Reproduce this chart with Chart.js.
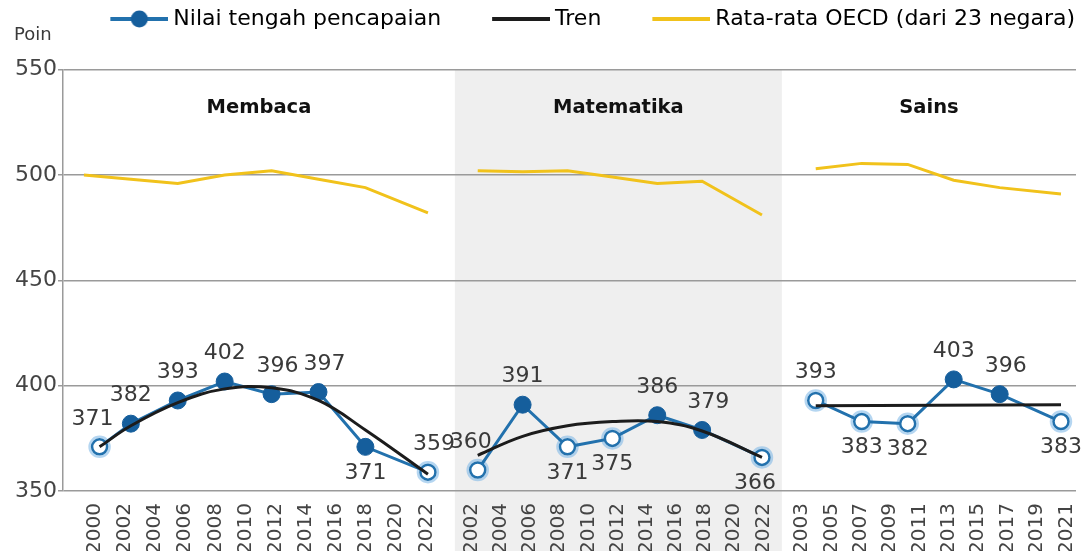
<!DOCTYPE html>
<html>
<head>
<meta charset="utf-8">
<script src="https://cdn.jsdelivr.net/npm/chart.js@4.4.1/dist/chart.umd.min.js"></script>
<style>
  html, body { margin: 0; padding: 0; background: #ffffff; overflow: hidden; }
  #wrap { width: 1086px; height: 551px; position: relative; overflow: hidden; }
</style>
</head>
<body>
<div id="wrap"><canvas id="c" width="1086" height="551"></canvas></div>
<script>
// ================= DATA =================
const panelTitles = ['Membaca', 'Matematika', 'Sains'];
const legendNames = ['Nilai tengah pencapaian', 'Tren', 'Rata-rata OECD (dari 23 negara)'];
const yTickValues = [350, 400, 450, 500, 550];

// Membaca (reading)
const membacaYears = [2001, 2003, 2006, 2009, 2012, 2015, 2018, 2022];
const membacaScores = [371, 382, 393, 402, 396, 397, 371, 359];
const membacaSignificant = [false, true, true, true, true, true, true, false];
const membacaTrendYears = [2001, 2003, 2006, 2009, 2012, 2015, 2018, 2022];
const membacaTrend = [371, 381, 392, 398.5, 399, 393, 379, 358];
const membacaOecdYears = [2000, 2003, 2006, 2009, 2012, 2015, 2018, 2022];
const membacaOecd = [500, 498, 496, 500, 502, 498, 494, 482];
const membacaTickLabels = ['2000', '2002', '2004', '2006', '2008', '2010', '2012', '2014', '2016', '2018', '2020', '2022'];

// Matematika (mathematics)
const matematikaYears = [2003, 2006, 2009, 2012, 2015, 2018, 2022];
const matematikaScores = [360, 391, 371, 375, 386, 379, 366];
const matematikaSignificant = [false, true, false, false, true, true, false];
const matematikaTrendYears = [2003, 2006, 2009, 2012, 2015, 2018, 2022];
const matematikaTrend = [367, 376, 381, 383, 383, 378.5, 366];
const matematikaOecdYears = [2003, 2006, 2009, 2012, 2015, 2018, 2022];
const matematikaOecd = [502, 501.5, 502, 499, 496, 497, 481];
const matematikaTickLabels = ['2002', '2004', '2006', '2008', '2010', '2012', '2014', '2016', '2018', '2020', '2022'];

// Sains (science)
const sainsYears = [2006, 2009, 2012, 2015, 2018, 2022];
const sainsScores = [393, 383, 382, 403, 396, 383];
const sainsSignificant = [false, false, false, true, true, false];
const sainsTrendYears = [2006, 2022];
const sainsTrend = [390.5, 391];
const sainsOecdYears = [2006, 2009, 2012, 2015, 2018, 2022];
const sainsOecd = [503, 505.5, 505, 497.5, 494, 491];
const sainsTickLabels = ['2003', '2005', '2007', '2009', '2011', '2013', '2015', '2017', '2019', '2021'];

// ================= LAYOUT / STYLE (not data) =================
const FONT = 'DejaVu Sans';
const BLUE = '#2271ad';
const BLUE_DARK = '#155e9c';
const BLUE_HALO = 'rgba(120, 180, 230, 0.55)';
const BLACK = '#1c1c1c';
const YELLOW = '#f1c21b';
const PANEL_GRAY = '#efefef';
const GRID = '#9a9a9a';
const TEXT = '#3a3a3a';

// each panel: its share of the x axis and the year span drawn inside it
const panelLayout = [
  { width: 393, yearMin: 1998.66, yearMax: 2023.72, tickFirst: 2000.7, tickLast: 2021.9 },
  { width: 328, yearMin: 2001.47, yearMax: 2023.33, tickFirst: 2002.6, tickLast: 2022.1 },
  { width: 295, yearMin: 2003.79, yearMax: 2022.98, tickFirst: 2005.1, tickLast: 2022.35 }
];
// value-label placement: a = above, b = below, l/r = nudge left/right
const membacaLabelPos = ['al', 'a', 'a', 'a', 'ar', 'ar', 'b', 'ar'];
const matematikaLabelPos = ['al', 'a', 'b', 'b', 'a', 'ar', 'bl'];
const sainsLabelPos = ['a', 'b', 'b', 'a', 'ar', 'b'];

const panelOffsets = [];
{ let acc = 0; panelLayout.forEach(p => { panelOffsets.push(acc); acc += p.width; }); }
const X_TOTAL = panelLayout.reduce((s, p) => s + p.width, 0);

function vx(panel, year) {
  const p = panelLayout[panel];
  return panelOffsets[panel] + (year - p.yearMin) / (p.yearMax - p.yearMin) * p.width;
}

const panels = [
  { years: membacaYears, scores: membacaScores, sig: membacaSignificant, trendYears: membacaTrendYears, trend: membacaTrend, oecdYears: membacaOecdYears, oecd: membacaOecd, ticks: membacaTickLabels, labelPos: membacaLabelPos },
  { years: matematikaYears, scores: matematikaScores, sig: matematikaSignificant, trendYears: matematikaTrendYears, trend: matematikaTrend, oecdYears: matematikaOecdYears, oecd: matematikaOecd, ticks: matematikaTickLabels, labelPos: matematikaLabelPos },
  { years: sainsYears, scores: sainsScores, sig: sainsSignificant, trendYears: sainsTrendYears, trend: sainsTrend, oecdYears: sainsOecdYears, oecd: sainsOecd, ticks: sainsTickLabels, labelPos: sainsLabelPos }
];

// x tick positions (evenly spread inside each panel) and their labels
const xTickValues = [];
const xTickTexts = [];
panels.forEach((pd, pi) => {
  const L = panelLayout[pi];
  const n = pd.ticks.length;
  pd.ticks.forEach((t, i) => {
    const yr = L.tickFirst + (L.tickLast - L.tickFirst) * i / (n - 1);
    xTickValues.push(vx(pi, yr));
    xTickTexts.push(t);
  });
});

// datasets
const datasets = [];
panels.forEach((pd, pi) => {
  datasets.push({
    label: legendNames[1],
    data: pd.trendYears.map((y, i) => ({ x: vx(pi, y), y: pd.trend[i] })),
    borderColor: BLACK, borderWidth: 3, pointRadius: 0, tension: 0.4, order: 0, fill: false
  });
  datasets.push({
    label: legendNames[0],
    data: pd.years.map((y, i) => ({ x: vx(pi, y), y: pd.scores[i] })),
    borderColor: BLUE, borderWidth: 3, tension: 0, order: 1, fill: false,
    pointRadius: pd.sig.map(s => s ? 8.5 : 7.5),
    pointBackgroundColor: pd.sig.map(s => s ? BLUE_DARK : '#ffffff'),
    pointBorderColor: pd.sig.map(s => s ? BLUE_DARK : BLUE),
    pointBorderWidth: pd.sig.map(s => s ? 1 : 2.5),
    valueLabels: pd.labelPos, valueTexts: pd.scores, openMarks: pd.sig.map(s => !s)
  });
  datasets.push({
    label: legendNames[2],
    data: pd.oecdYears.map((y, i) => ({ x: vx(pi, y), y: pd.oecd[i] })),
    borderColor: YELLOW, borderWidth: 3, pointRadius: 0, tension: 0, order: 2, fill: false
  });
});

// legend symbols (line, optionally with a dot), drawn as point-style images
const LEG_BOX = 95;
function legendSymbol(color, withDot) {
  const c = document.createElement('canvas');
  c.width = LEG_BOX + 12; c.height = 22;
  const g = c.getContext('2d');
  g.strokeStyle = color; g.lineWidth = 4;
  g.beginPath(); g.moveTo(LEG_BOX - 46, 11); g.lineTo(LEG_BOX + 12, 11); g.stroke();
  if (withDot) {
    g.fillStyle = BLUE_DARK;
    g.beginPath(); g.arc(LEG_BOX - 17, 11, 8.5, 0, Math.PI * 2); g.fill();
  }
  return c;
}
const legendImgs = [legendSymbol(BLUE, true), legendSymbol(BLACK, false), legendSymbol(YELLOW, false)];

// ================= PLUGINS =================
const panelBackground = {
  id: 'panelBackground',
  beforeDraw(chart) {
    const { ctx, chartArea, scales: { x } } = chart;
    const x0 = x.getPixelForValue(panelOffsets[1]);
    const x1 = x.getPixelForValue(panelOffsets[2]);
    ctx.save();
    ctx.fillStyle = PANEL_GRAY;
    ctx.fillRect(x0, chartArea.top, x1 - x0, chart.height - chartArea.top);
    ctx.restore();
  }
};

const panelTitlePlugin = {
  id: 'panelTitles',
  afterDatasetsDraw(chart) {
    const { ctx, scales: { x, y } } = chart;
    ctx.save();
    ctx.font = 'bold 19.5px "' + FONT + '"';
    ctx.fillStyle = '#111111';
    ctx.textAlign = 'center';
    ctx.textBaseline = 'middle';
    panelTitles.forEach((t, i) => {
      const cx = x.getPixelForValue(panelOffsets[i] + panelLayout[i].width / 2);
      ctx.fillText(t, cx, y.getPixelForValue(532));
    });
    ctx.restore();
  }
};

const openHaloPlugin = {
  id: 'openHalo',
  beforeDatasetsDraw(chart) {
    const { ctx } = chart;
    ctx.save();
    ctx.strokeStyle = BLUE_HALO;
    ctx.lineWidth = 2.5;
    chart.data.datasets.forEach((ds, di) => {
      if (!ds.openMarks) return;
      chart.getDatasetMeta(di).data.forEach((pt, i) => {
        if (!ds.openMarks[i]) return;
        ctx.beginPath(); ctx.arc(pt.x, pt.y, 10, 0, Math.PI * 2); ctx.stroke();
      });
    });
    ctx.restore();
  }
};

const valueLabelPlugin = {
  id: 'valueLabels',
  afterDatasetsDraw(chart) {
    const { ctx } = chart;
    ctx.save();
    ctx.font = '22px "' + FONT + '"';
    ctx.fillStyle = TEXT;
    ctx.textAlign = 'center';
    ctx.textBaseline = 'middle';
    chart.data.datasets.forEach((ds, di) => {
      if (!ds.valueLabels) return;
      const meta = chart.getDatasetMeta(di);
      meta.data.forEach((pt, i) => {
        const pos = ds.valueLabels[i];
        let dx = 0, dy = pos[0] === 'a' ? -28 : 26;
        if (pos.includes('l')) dx = -7;
        if (pos.includes('r')) dx = 6;
        ctx.fillText(String(ds.valueTexts[i]), pt.x + dx, pt.y + dy);
      });
    });
    ctx.restore();
  }
};

// ================= CHART =================
Chart.defaults.font.family = FONT;
Chart.defaults.color = TEXT;

new Chart(document.getElementById('c'), {
  type: 'line',
  data: { datasets },
  options: {
    responsive: false,
    animation: false,
    devicePixelRatio: 1,
    layout: { padding: { left: 14, right: 3, top: 0, bottom: -7 } },
    scales: {
      x: {
        type: 'linear', min: 0, max: X_TOTAL,
        grid: { display: false },
        border: { display: false },
        afterBuildTicks: (scale) => { scale.ticks = xTickValues.map(v => ({ value: v })); },
        afterFit: (scale) => { scale.paddingLeft = 0; scale.paddingRight = 0; },
        ticks: {
          autoSkip: false, minRotation: 90, maxRotation: 90, padding: 4,
          font: { size: 20 }, color: '#444444',
          callback: (val, idx) => xTickTexts[idx]
        }
      },
      y: {
        min: 350, max: 550,
        afterBuildTicks: (scale) => { scale.ticks = yTickValues.map(v => ({ value: v })); },
        grid: { color: GRID, lineWidth: 1.5, tickLength: 5, drawTicks: true },
        border: { display: true, color: GRID, width: 1.5 },
        ticks: { font: { size: 22 }, color: '#444444', padding: 1 }
      }
    },
    plugins: {
      tooltip: { enabled: false },
      legend: {
        display: true, position: 'top', align: 'end', weight: 3000,
        onClick: () => {},
        labels: {
          usePointStyle: true, pointStyleWidth: LEG_BOX, padding: 8,
          font: { size: 22 }, color: TEXT,
          generateLabels: () => legendNames.map((t, i) => ({
            text: t, pointStyle: legendImgs[i], fillStyle: 'transparent',
            strokeStyle: 'transparent', lineWidth: 0, hidden: false, datasetIndex: i
          }))
        }
      },
      title: {
        display: true, text: 'Poin', align: 'start', color: TEXT,
        font: { size: 18, weight: 'normal' },
        padding: { top: -15, bottom: 23 }
      }
    }
  },
  plugins: [panelBackground, openHaloPlugin, panelTitlePlugin, valueLabelPlugin]
});
</script>
</body>
</html>
